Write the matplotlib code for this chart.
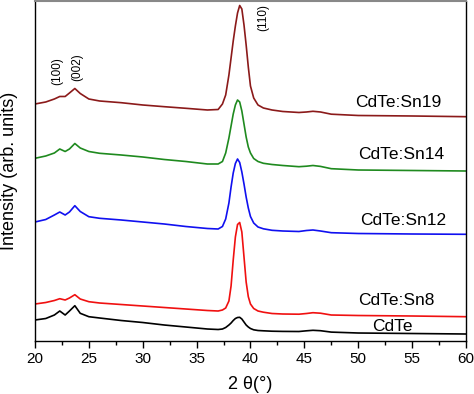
"""XRD patterns of CdTe and Sn-doped CdTe films."""

import matplotlib
matplotlib.use("Agg")
import matplotlib.pyplot as plt
from matplotlib.ticker import MultipleLocator

# ---------------------------------------------------------------------------
# Data (vertically offset as in the figure)
# ---------------------------------------------------------------------------

TWO_THETA = [20, 21, 21.8, 22.3, 22.8, 23.2, 23.7, 24.2, 25, 26, 28, 30, 32, 34, 36,
             37.0, 37.4, 37.7, 38.0, 38.2, 38.4, 38.6, 38.8, 39.0, 39.2, 39.4,
             39.6, 39.8, 40.0, 40.3, 40.7, 41.2, 42.0,
             43, 44.5, 45.2, 45.8, 46.5, 47.5, 50, 55, 60]

SN19 = [237, 239, 242, 244.5, 244.5, 248, 252.5, 247.5, 242, 240, 238.3, 236, 234.3, 232.7, 231,
        231.5, 237, 246, 266, 283, 300, 315, 328, 335.5, 332, 316,
        296, 274, 255, 243, 236, 233, 231,
        229.5, 228.5, 229, 229.7, 229, 226.8, 225.5, 225, 224.3]
SN14 = [182.7, 185, 188, 192, 189.5, 192, 197.5, 193, 189.5, 187.7, 186, 184, 181.5, 179.5, 177,
        177, 179.5, 188, 203, 215, 227, 236, 241, 239, 230, 217,
        204, 194, 188, 182.5, 179.5, 177.7, 176.5,
        175.5, 174.3, 174.8, 175.5, 174.6, 172.3, 171, 170.5, 170]
SN12 = [119, 121.5, 126, 129, 126, 129, 135.3, 129.5, 124.3, 122.7, 121, 119, 117, 114.5, 112.5,
        112, 114.5, 122, 138, 154, 168, 177.5, 182, 178.5, 169, 157,
        144, 133, 124.5, 118, 114, 112.2, 110.7,
        110, 109.5, 110.5, 111, 110, 108.3, 107.5, 107, 106.7]
SN8 = [37, 38.5, 40.5, 42.3, 41, 43, 46.3, 42, 39.3, 38, 36.5, 35, 33.5, 32, 30.5,
       30, 31, 33, 40, 55, 81, 104, 116.5, 118.5, 109, 84,
       59, 44.3, 37, 32.5, 30, 28.8, 27.5,
       27, 26.8, 27.5, 28.3, 27.8, 26, 25.5, 25, 24.3]
CDTE = [21, 22.5, 26, 30, 26, 30, 35.3, 27.7, 24.3, 23, 20.5, 18.5, 16, 14, 12,
        11.5, 12, 13.5, 16, 18, 20.5, 22.5, 23.5, 23.7, 22, 19,
        16, 14, 12.5, 11.2, 10.5, 10.2, 9.8,
        9.6, 9.5, 10.2, 10.7, 10.3, 8.9, 8, 7.5, 7]

SERIES = [
    ("CdTe:Sn19", SN19, "#8b1a1a", (53.7, 238)),
    ("CdTe:Sn14", SN14, "#1f8a1f", (54.0, 186)),
    ("CdTe:Sn12", SN12, "#1010f0", (54.15, 120.3)),
    ("CdTe:Sn8", SN8, "#f01010", (53.5, 40.3)),
    ("CdTe", CDTE, "#000000", (53.2, 14.3)),
]

PLANES = [("(100)", 22.1, 269.5), ("(002)", 23.9, 273.5), ("(110)", 41.2, 323)]

# ---------------------------------------------------------------------------
# Plot
# ---------------------------------------------------------------------------

plt.rcParams["font.family"] = ["Liberation Sans", "DejaVu Sans"]

fig = plt.figure(figsize=(4.74, 3.94), dpi=100)
ax = fig.add_axes([0.0738, 0.1345, 0.9092, 0.863])

for name, values, color, (tx, ty) in SERIES:
    ax.plot(TWO_THETA, values, color=color, linewidth=1.2)
    ax.text(tx, ty, name, fontsize=12.5, ha="center", va="center")

for label, px, py in PLANES:
    ax.text(px, py, label, fontsize=8.5, rotation=90, ha="center", va="center")

ax.set_xlim(20, 60)
ax.set_ylim(0, 340)
ax.xaxis.set_major_locator(MultipleLocator(5))
ax.xaxis.set_minor_locator(MultipleLocator(2.5))
ax.tick_params(axis="x", which="major", direction="out", length=5, width=1,
               labelsize=11, pad=3)
ax.tick_params(axis="x", which="minor", direction="out", length=3, width=1)
ax.set_yticks([])

for side in ("left", "right", "bottom"):
    ax.spines[side].set_linewidth(1.0)
ax.spines["top"].set_color("#888888")
ax.spines["top"].set_linewidth(1.5)

ax.set_xlabel("2 θ(°)", fontsize=13, labelpad=7)
ax.set_ylabel("Intensity (arb. units)", fontsize=13, labelpad=12)

fig.savefig("out.png", dpi=100)
